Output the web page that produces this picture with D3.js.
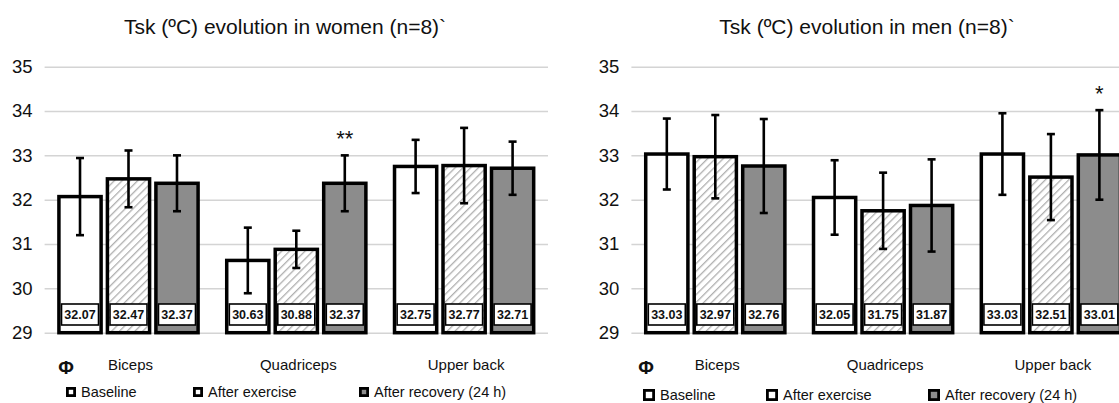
<!DOCTYPE html>
<html>
<head>
<meta charset="utf-8">
<script src="https://cdn.jsdelivr.net/npm/d3@7"></script>
<style>
  body { margin: 0; background: #fff; }
  svg { display: block; font-family: "Liberation Sans", Arial, sans-serif; }
</style>
</head>
<body>
<script>
const w = 1119
const h = 403

// data
const groups = ['Biceps', 'Quadriceps', 'Upper back']
const series = ['Baseline', 'After exercise', 'After recovery (24 h)']
const yTicks = [29, 30, 31, 32, 33, 34, 35]

const womenMeans = [[32.07, 32.47, 32.37], [30.63, 30.88, 32.37], [32.75, 32.77, 32.71]]
const womenSD = [[0.87, 0.64, 0.63], [0.74, 0.42, 0.63], [0.60, 0.85, 0.60]]
const womenMarks = [['', '', ''], ['', '', '**'], ['', '', '']]

const menMeans = [[33.03, 32.97, 32.76], [32.05, 31.75, 31.87], [33.03, 32.51, 33.01]]
const menSD = [[0.80, 0.94, 1.06], [0.84, 0.86, 1.04], [0.92, 0.97, 1.01]]
const menMarks = [['', '', ''], ['', '', ''], ['', '', '*']]

const panels = [
    { title: 'Tsk (ºC) evolution in women (n=8)`', titleX: 285, x0: 44.6,
      means: womenMeans, sd: womenSD, marks: womenMarks,
      phiX: 66, legendX: [66, 193, 359], legendY: 392, sq: 10 },
    { title: 'Tsk (ºC) evolution in men (n=8)`', titleX: 867, x0: 631.4,
      means: menMeans, sd: menSD, marks: menMarks,
      phiX: 646, legendX: [643, 766, 928], legendY: 395, sq: 12 }
]

const fills = ['#ffffff', 'url(#hatch)', '#8c8c8c']
const legendFills = ['#ffffff', '#ffffff', '#8c8c8c']

const svg = d3.select('body').append('svg')
    .attr('width', w)
    .attr('height', h)

const defs = svg.append('defs')
const pat = defs.append('pattern')
    .attr('id', 'hatch')
    .attr('patternUnits', 'userSpaceOnUse')
    .attr('width', 5.5)
    .attr('height', 5.5)
    .attr('patternTransform', 'rotate(45)')
pat.append('rect').attr('width', 5.5).attr('height', 5.5).attr('fill', '#fff')
pat.append('line')
    .attr('x1', 0).attr('y1', 0).attr('x2', 0).attr('y2', 5.5)
    .attr('stroke', '#b0b0b0')
    .attr('stroke-width', 2.6)

const y = d3.scaleLinear()
    .domain([29, 35])
    .range([332.7, 66.7])

panels.forEach(function (p) {

    const x = d3.scaleBand()
        .domain(groups)
        .range([p.x0, p.x0 + 503.4])
        .paddingInner(0.136)
        .paddingOuter(0.068)

    const xs = d3.scaleBand()
        .domain(series)
        .range([0, x.bandwidth()])
        .paddingInner(0.13)
        .paddingOuter(0.06)

    const g = svg.append('g')

    // title
    g.append('text')
        .attr('x', p.titleX)
        .attr('y', 34)
        .attr('text-anchor', 'middle')
        .style('font-size', '21px')
        .style('fill', '#111')
        .text(p.title)

    // y axis with gridlines
    const axis = g.append('g')
        .attr('transform', 'translate(' + p.x0 + ',0)')
        .call(d3.axisLeft(y).tickValues(yTicks).tickSize(-(p.x0 + 503.4 > w ? w - p.x0 : 503.4)).tickPadding(12).tickFormat(d3.format('d')))
    axis.select('.domain').remove()
    axis.selectAll('.tick line')
        .attr('stroke', '#d4d4d4')
        .attr('stroke-width', 1.5)
    axis.selectAll('.tick text')
        .style('font-size', '18.5px')
        .style('fill', '#111')
        .style('font-family', '"Liberation Sans", Arial, sans-serif')

    const rows = []
    groups.forEach(function (gr, i) {
        series.forEach(function (s, j) {
            rows.push({ group: gr, series: s, j: j, mean: p.means[i][j], sd: p.sd[i][j], mark: p.marks[i][j] })
        })
    })

    const cell = g.selectAll('.cell')
        .data(rows)
        .enter()
        .append('g')
        .attr('transform', function (d) { return 'translate(' + (x(d.group) + xs(d.series)) + ',0)' })

    const bw = xs.bandwidth()

    cell.append('rect')
        .attr('x', 0)
        .attr('y', function (d) { return y(d.mean) })
        .attr('width', bw)
        .attr('height', function (d) { return y(29) - y(d.mean) })
        .attr('fill', function (d) { return fills[d.j] })
        .attr('stroke', '#000')
        .attr('stroke-width', 3.5)

    // value boxes
    cell.append('rect')
        .attr('x', bw / 2 - 18.5)
        .attr('y', 304)
        .attr('width', 37)
        .attr('height', 21)
        .attr('fill', '#fff')
        .attr('stroke', '#000')
        .attr('stroke-width', 1.6)

    cell.append('text')
        .attr('x', bw / 2)
        .attr('y', 319)
        .attr('text-anchor', 'middle')
        .style('font-size', '12.5px')
        .style('font-weight', 'bold')
        .style('fill', '#111')
        .text(function (d) { return d.mean.toFixed(2) })

    // error bars
    cell.append('line')
        .attr('x1', bw / 2).attr('x2', bw / 2)
        .attr('y1', function (d) { return y(d.mean + d.sd) })
        .attr('y2', function (d) { return y(d.mean - d.sd) })
        .attr('stroke', '#000')
        .attr('stroke-width', 2.6)
    cell.append('line')
        .attr('x1', bw / 2 - 4).attr('x2', bw / 2 + 4)
        .attr('y1', function (d) { return y(d.mean + d.sd) })
        .attr('y2', function (d) { return y(d.mean + d.sd) })
        .attr('stroke', '#000')
        .attr('stroke-width', 2.6)
    cell.append('line')
        .attr('x1', bw / 2 - 4).attr('x2', bw / 2 + 4)
        .attr('y1', function (d) { return y(d.mean - d.sd) })
        .attr('y2', function (d) { return y(d.mean - d.sd) })
        .attr('stroke', '#000')
        .attr('stroke-width', 2.6)

    // significance marks
    cell.filter(function (d) { return d.mark !== '' })
        .append('text')
        .attr('x', bw / 2)
        .attr('y', function (d) { return y(d.mean + d.sd) - 9 })
        .attr('text-anchor', 'middle')
        .style('font-size', '22px')
        .style('fill', '#111')
        .text(function (d) { return d.mark })

    // category labels
    g.selectAll('.cat')
        .data(groups)
        .enter()
        .append('text')
        .attr('x', function (d) { return x(d) + x.bandwidth() / 2 + 2 })
        .attr('y', 370)
        .attr('text-anchor', 'middle')
        .style('font-size', '15px')
        .style('fill', '#111')
        .text(function (d) { return d })

    g.append('text')
        .attr('x', p.phiX)
        .attr('y', 374)
        .attr('text-anchor', 'middle')
        .style('font-size', '19px')
        .style('font-weight', 'bold')
        .style('fill', '#111')
        .text('Φ')

    // legend
    const leg = g.selectAll('.leg')
        .data(series)
        .enter()
        .append('g')
        .attr('transform', function (d, i) { return 'translate(' + p.legendX[i] + ',' + p.legendY + ')' })

    leg.append('rect')
        .attr('x', 1.4)
        .attr('y', -p.sq / 2 + 1.4)
        .attr('width', p.sq - 2.8)
        .attr('height', p.sq - 2.8)
        .attr('fill', function (d, i) { return legendFills[i] })
        .attr('stroke', '#000')
        .attr('stroke-width', 2.8)

    leg.append('text')
        .attr('x', p.sq + 5)
        .attr('y', 5)
        .style('font-size', '14.5px')
        .style('fill', '#111')
        .text(function (d) { return d })
})
</script>
</body>
</html>
